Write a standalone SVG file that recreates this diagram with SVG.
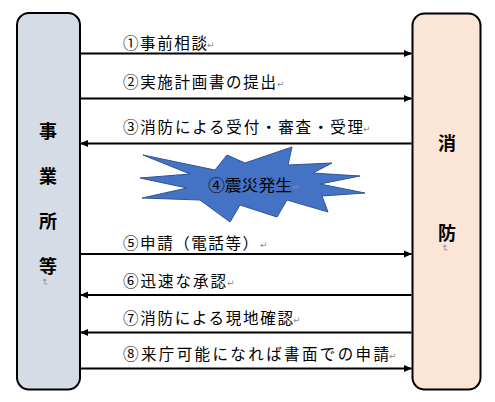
<svg xmlns="http://www.w3.org/2000/svg" width="495" height="402" viewBox="0 0 495 402">
<style>
.box{stroke:#000;stroke-width:2}
.big{font-family:"Noto Sans CJK JP","Noto Sans CJK SC",sans-serif;font-size:18px;font-weight:bold;fill:#000;text-anchor:middle}
.lbl{font-family:"Noto Sans CJK JP","Noto Sans CJK SC",sans-serif;font-size:15.5px;fill:#000}
.ret{font-family:"DejaVu Sans",sans-serif;font-size:9px;fill:#8c8c8c}
.ln{stroke:#000;stroke-width:2;fill:none}
</style>
<defs>
<marker id="ah" markerWidth="8" markerHeight="8" refX="7.5" refY="4" orient="auto" markerUnits="userSpaceOnUse">
<path d="M0,0.5 L8,4 L0,7.5 z" fill="#000"/>
</marker>
</defs>
<rect width="495" height="402" fill="#fff"/>
<g id="jigyosho">
<rect class="box" x="17" y="13" width="63" height="376.5" rx="12" fill="#D6DCE5"/>
<text class="big" x="48" y="138">事</text>
<text class="big" x="48" y="183">業</text>
<text class="big" x="48" y="228">所</text>
<text class="big" x="48" y="273">等</text>
<text class="ret" transform="translate(45,282) rotate(90)" text-anchor="middle" dy="3">↵</text>
</g>
<g id="shobo">
<rect class="box" x="412.5" y="13.5" width="68" height="376" rx="12" fill="#FBE5D6"/>
<text class="big" x="447" y="149.5">消</text>
<text class="big" x="447" y="239.5">防</text>
<text class="ret" transform="translate(445,248) rotate(90)" text-anchor="middle" dy="3">↵</text>
</g>
<g id="shinsai">
<polygon points="143,155 215,170 227,155 245,163 292,147 288,165 332,163 313,173 360,176 320,184 365,193 322,196 328,212 287,200 277,217 240,205 230,222 200,200 142,198 187,188 140,178 190,174" fill="#4472C4" stroke="#2F5597" stroke-width="1" stroke-linejoin="miter"/>
<text class="lbl" x="208" y="190.5" textLength="84" lengthAdjust="spacingAndGlyphs">④震災発生</text>
<text class="ret" x="292" y="190">↵</text>
</g>
<g id="connectors">
<line class="ln" x1="80.7" y1="53.5" x2="411.5" y2="53.5" marker-end="url(#ah)"/>
<line class="ln" x1="80.7" y1="98.5" x2="411.5" y2="98.5" marker-end="url(#ah)"/>
<line class="ln" x1="411.5" y1="143.5" x2="80.7" y2="143.5" marker-end="url(#ah)"/>
<line class="ln" x1="80.7" y1="254" x2="411.5" y2="254" marker-end="url(#ah)"/>
<line class="ln" x1="411.5" y1="295" x2="80.7" y2="295" marker-end="url(#ah)"/>
<line class="ln" x1="411.5" y1="332.5" x2="80.7" y2="332.5" marker-end="url(#ah)"/>
<line class="ln" x1="80.7" y1="368.5" x2="411.5" y2="368.5" marker-end="url(#ah)"/>
</g>
<g id="labels">
<text class="lbl" x="123" y="49" textLength="84">①事前相談</text>
<text class="ret" x="207" y="48">↵</text>
<text class="lbl" x="123" y="87.5" textLength="153">②実施計画書の提出</text>
<text class="ret" x="277" y="86.5">↵</text>
<text class="lbl" x="123" y="133" textLength="240">③消防による受付・審査・受理</text>
<text class="ret" x="363" y="132">↵</text>
<text class="lbl" x="123" y="249" textLength="135">⑤申請（電話等）</text>
<text class="ret" x="260" y="248">↵</text>
<text class="lbl" x="123" y="286.5" textLength="103">⑥迅速な承認</text>
<text class="ret" x="227" y="285.5">↵</text>
<text class="lbl" x="123" y="323.5" textLength="170">⑦消防による現地確認</text>
<text class="ret" x="293" y="322.5">↵</text>
<text class="lbl" x="123" y="360" textLength="266">⑧来庁可能になれば書面での申請</text>
<text class="ret" x="389" y="359">↵</text>
</g>
</svg>
